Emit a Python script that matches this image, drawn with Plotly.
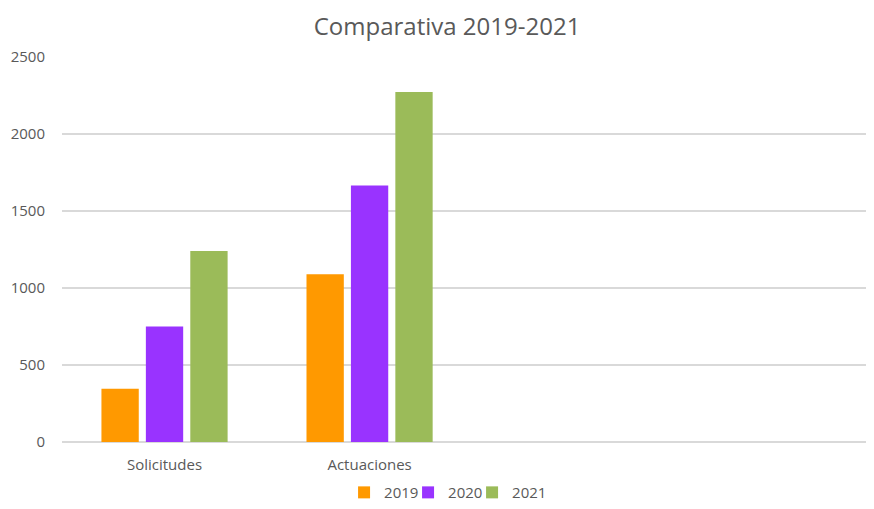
import plotly.graph_objects as go

categories = ["Solicitudes", "Actuaciones"]
years = ["2019", "2020", "2021"]
v2019 = [345, 1090]
v2020 = [750, 1665]
v2021 = [1240, 2272]
colors = ["#FF9900", "#9933FF", "#9BBB59"]

xpos = list(range(len(categories)))
fig = go.Figure()
for name, vals, c in zip(years, [v2019, v2020, v2021], colors):
    fig.add_trace(go.Bar(x=xpos, y=vals, name=name, marker=dict(color=c, line=dict(width=0))))
# invisible spacer legend entry so the last legend label is not clipped
fig.add_trace(go.Scatter(x=[None], y=[None], name="", mode="markers",
                         marker=dict(color="rgba(0,0,0,0)"), hoverinfo="skip"))

font = "Open Sans, Liberation Sans, sans-serif"
fig.update_layout(
    width=866, height=493,
    paper_bgcolor="white", plot_bgcolor="white",
    margin=dict(l=54, r=0, t=49, b=59, autoexpand=False),
    barmode="group", bargap=0.35, bargroupgap=0.16,
    title=dict(text="Comparativa 2019-2021", x=0.507, xanchor="center", yref="container", y=0.962, yanchor="middle",
               font=dict(family=font, size=24, color="#595959")),
    font=dict(family=font, size=15, color="#595959"),
    showlegend=True,
    legend=dict(orientation="h", x=0.505, xanchor="center", yref="container", y=0.017, yanchor="middle",
                font=dict(size=15, color="#595959"), itemwidth=30, traceorder="normal",
                entrywidth=19, entrywidthmode="pixels"),
    xaxis=dict(range=[-0.5, 3.46], tickvals=xpos, ticktext=categories, showgrid=False, zeroline=False,
               showline=False, ticks="", ticklabelstandoff=12, automargin=False,
               tickfont=dict(size=15, color="#595959")),
    yaxis=dict(range=[0, 2500], dtick=500, showgrid=True, gridcolor="#D9D9D9", gridwidth=1.5,
               zeroline=True, zerolinecolor="#D9D9D9", zerolinewidth=1.5, ticks="", automargin=False,
               ticklabelstandoff=16, tickfont=dict(size=15, color="#595959")),
)
fig.write_html("out.html")
